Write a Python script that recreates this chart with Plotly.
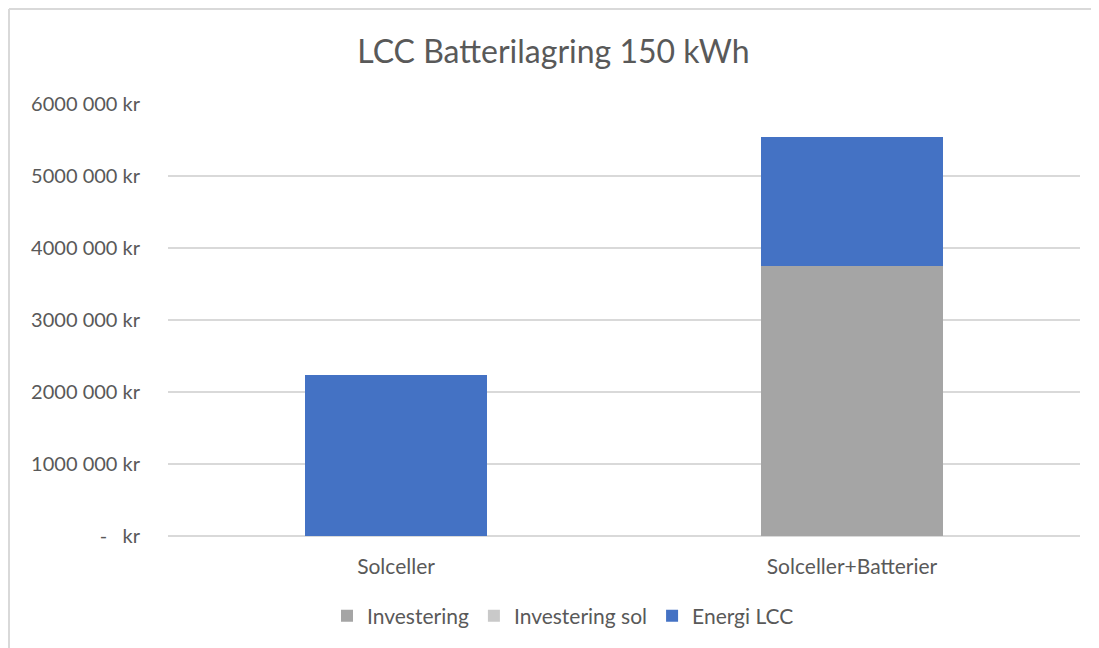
import plotly.graph_objects as go

categories = ['Solceller', 'Solceller+Batterier']
investering = [0, 3750000]
investering_sol = [0, 0]
energi_lcc = [2230000, 1785000]

tick_values = [0, 1000000, 2000000, 3000000, 4000000, 5000000, 6000000]
tick_labels = ['-   kr', '1000 000 kr', '2000 000 kr', '3000 000 kr',
               '4000 000 kr', '5000 000 kr', '6000 000 kr']

FONT = 'Lato, Noto Sans, sans-serif'
TEXT = '#595959'

# the page body adds 8px around the figure, so the figure is 8px smaller
W, H = 1091, 640
ML, MR, MT, MB = 160, 19, 96, 112
PW, PH = W - ML - MR, H - MT - MB

fig = go.Figure()
fig.add_trace(go.Bar(x=categories, y=investering, name='Investering',
                     marker_color='#A5A5A5'))
fig.add_trace(go.Bar(x=categories, y=investering_sol, name='Investering sol',
                     marker_color='#C9C9C9'))
fig.add_trace(go.Bar(x=categories, y=energi_lcc, name='Energi LCC',
                     marker_color='#4472C4'))
fig.update_traces(marker_line_width=0)

fig.update_layout(
    barmode='stack',
    bargap=0.6,
    width=W, height=H,
    margin=dict(l=ML, r=MR, t=MT, b=MB),
    paper_bgcolor='white', plot_bgcolor='white',
    font=dict(family=FONT, color=TEXT, size=20),
    title=dict(text='LCC Batterilagring 150 kWh', x=0.5, xanchor='center',
               y=1 - 44 / H, yanchor='middle',
               font=dict(family=FONT, size=32, color=TEXT)),
    legend=dict(orientation='h', x=(563 - 8 - ML) / PW, xanchor='center',
                y=-80 / PH, yanchor='middle', itemwidth=30,
                font=dict(size=21, color=TEXT), traceorder='normal'),
    showlegend=True,
)
fig.update_yaxes(range=[0, 6000000], tickvals=tick_values, ticktext=tick_labels,
                 showgrid=True, gridcolor='#D9D9D9', gridwidth=1.5,
                 zeroline=True, zerolinecolor='#D9D9D9', zerolinewidth=1.5,
                 ticks='', ticklabelstandoff=27, showline=False,
                 tickfont=dict(size=20, color=TEXT))
fig.update_xaxes(showline=False, ticks='', tickfont=dict(size=21, color=TEXT),
                 ticklabelstandoff=16)

# outer chart border as in the original
bx = -(ML - 1) / PW
by = 1 + (MT - 1) / PH
fig.add_shape(type='line', xref='paper', yref='paper', x0=bx, x1=bx,
              y0=-MB / PH, y1=by, line=dict(color='#D9D9D9', width=2))
fig.add_shape(type='line', xref='paper', yref='paper', x0=bx, x1=1 + MR / PW,
              y0=by, y1=by, line=dict(color='#D9D9D9', width=2))

fig.write_html('out.html')
